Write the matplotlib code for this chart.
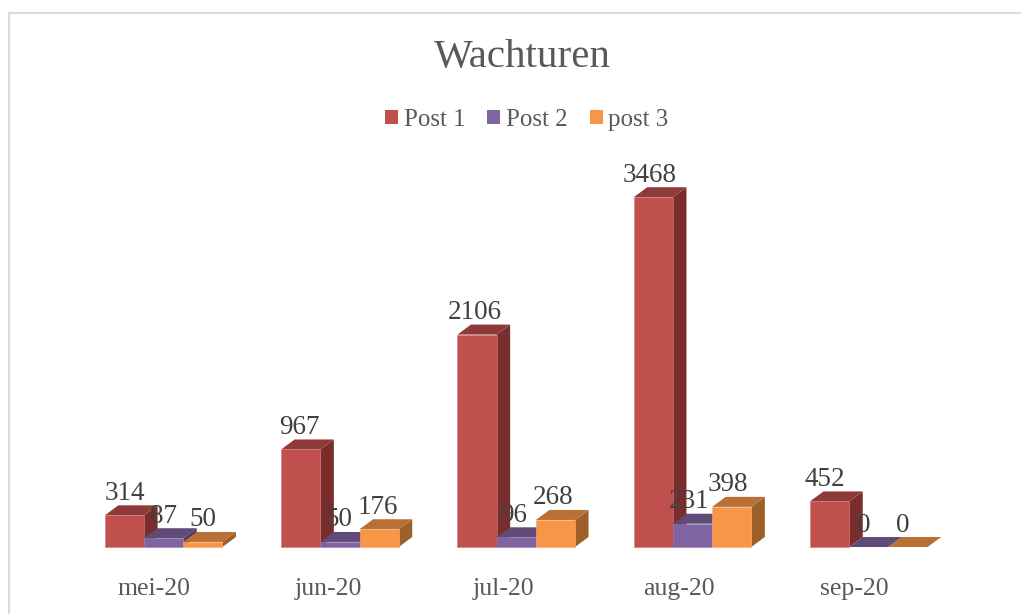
import numpy as np
import matplotlib
matplotlib.use("Agg")
import matplotlib.pyplot as plt
from matplotlib.patches import Polygon, Patch
from matplotlib.lines import Line2D

months = ["mei-20", "jun-20", "jul-20", "aug-20", "sep-20"]
post1 = [314, 967, 2106, 3468, 452]
post2 = [87, 50, 96, 231, 0]
post3 = [50, 176, 268, 398, 0]
names = ["Post 1", "Post 2", "post 3"]

front = ["#C0504D", "#8064A2", "#F79646"]
top = ["#8E3A38", "#5F4A78", "#B87034"]
side = ["#7A2E2C", "#4F3D66", "#9C6028"]
edge = ["#CF7A78", "#9680B3", "#F9AE70"]

plt.rcParams["font.family"] = ["Liberation Serif", "DejaVu Serif"]

W, H = 1021, 614
fig = plt.figure(figsize=(W / 100, H / 100), dpi=100)

# axes in pixels: one category = 176.3 px, baseline at y=547
left, right, base, ceil = 75.5, 957, 547, 194
ax = fig.add_axes([left / W, 1 - base / H, (right - left) / W, (base - ceil) / H])
ax.set_xlim(-0.5, 4.5)
ax.set_ylim(0, 3500)
ax.axis("off")

px_x = 5 / (right - left)
px_y = 3500 / (base - ceil)
bar_w = 39.2 * px_x
dx = 13.5 * px_x
dy = 10 * px_y

series = [post1, post2, post3]
for s, vals in enumerate(series):
    for i, v in enumerate(vals):
        x0 = i + (s - 1.5) * bar_w
        x1 = x0 + bar_w
        ax.add_patch(Polygon([(x1, 0), (x1 + dx, dy), (x1 + dx, v + dy), (x1, v)],
                             fc=side[s], ec="none", clip_on=False, zorder=2 + s))
        ax.add_patch(Polygon([(x0, v), (x1, v), (x1 + dx, v + dy), (x0 + dx, v + dy)],
                             fc=top[s], ec="none", clip_on=False, zorder=2 + s))
        if v > 0:
            ax.add_patch(Polygon([(x0, 0), (x1, 0), (x1, v), (x0, v)], fc=front[s],
                                 ec=edge[s], lw=0.4, clip_on=False, zorder=2 + s))
        # labels drift a little to the left going right
        ax.text(x0 + bar_w / 2 - i * 1.25 * px_x, v + 22 * px_y, str(v), ha="center", va="center",
                fontsize=19.5, color="#404040", zorder=10)

for i, m in enumerate(months):
    ax.text(i - 10 * px_x - i * 1.25 * px_x, -42 * px_y, m, ha="center", va="center",
            fontsize=18.5, color="#595959", clip_on=False)

fig.text(522 / W, 1 - 58 / H, "Wachturen", ha="center", va="center", fontsize=29.5, color="#595959")

handles = [Patch(fc=front[i], ec="none", label=names[i]) for i in range(3)]
fig.legend(handles=handles, loc="center", bbox_to_anchor=(527 / W, 1 - 120 / H), ncol=3,
           frameon=False, fontsize=18, labelcolor="#595959", handlelength=0.52, handleheight=0.52,
           handletextpad=0.24, columnspacing=0.86, borderpad=0)

# chart frame
fig.add_artist(Line2D([9 / W, 9 / W], [0, 1 - 13 / H], color="#DCDCDC", lw=1.5))
fig.add_artist(Line2D([9 / W, 1], [1 - 13 / H, 1 - 13 / H], color="#DCDCDC", lw=1.5))

fig.savefig("out.png", dpi=100)
